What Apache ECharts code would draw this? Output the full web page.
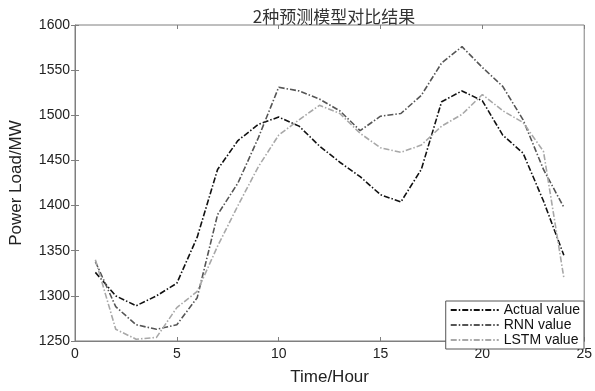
<!DOCTYPE html>
<html>
<head>
<meta charset="utf-8">
<script src="https://cdn.jsdelivr.net/npm/echarts@6/dist/echarts.min.js"></script>
<style>
  html, body { margin: 0; padding: 0; background: #fff; }
  #main { width: 595px; height: 391px; }
</style>
</head>
<body>
<div id="main"></div>
<script>
// 小时
var hours = [1, 2, 3, 4, 5, 6, 7, 8, 9, 10, 11, 12, 13, 14, 15, 16, 17, 18, 19, 20, 21, 22, 23, 24];
// 实际值
var actualValue = [1326, 1300, 1289, 1300, 1314, 1365, 1440, 1472, 1490, 1498, 1488, 1466, 1448, 1432, 1412, 1404, 1440, 1515, 1527, 1516, 1478, 1458, 1405, 1345];
// RNN预测
var rnnValue = [1338, 1288, 1268, 1263, 1268, 1298, 1390, 1425, 1475, 1531, 1527, 1518, 1505, 1483, 1499, 1502, 1522, 1558, 1576, 1553, 1532, 1495, 1440, 1398];
// LSTM预测
var lstmValue = [1340, 1263, 1252, 1254, 1287, 1305, 1355, 1400, 1443, 1478, 1495, 1511, 1502, 1480, 1464, 1459, 1467, 1488, 1501, 1523, 1505, 1492, 1460, 1320];

function pairs(vals) {
  return hours.map(function (h, i) { return [h, vals[i]]; });
}

var chart = echarts.init(document.getElementById('main'));
var font = 'Liberation Sans, Arial, sans-serif';
var axisColor = '#7f7f7f';

function mkLine(name, vals, color) {
  return {
    name: name,
    type: 'line',
    data: pairs(vals),
    symbol: 'none',
    smooth: false,
    itemStyle: { color: color },
    lineStyle: { color: color, width: 1.6, type: [6, 2, 1.5, 2] }
  };
}

var option = {
  backgroundColor: '#fff',
  animation: false,
  title: {
    text: '2种预测模型对比结果',
    left: 329,
    textAlign: 'center',
    top: 3,
    textStyle: { fontFamily: 'Noto Sans CJK SC', fontWeight: 'normal', fontSize: 17, color: '#333' }
  },
  grid: { left: 73, right: 10, top: 25, bottom: 40, show: true, borderColor: axisColor, borderWidth: 1 },
  legend: {
    orient: 'vertical',
    right: 11,
    bottom: 42,
    backgroundColor: '#fff',
    borderColor: '#555',
    borderWidth: 1,
    borderRadius: 0,
    padding: [2, 4, 2, 4],
    itemGap: 1,
    itemWidth: 48,
    itemHeight: 14,
    itemStyle: { opacity: 0 },
    textStyle: { fontFamily: font, fontSize: 14, color: '#111' },
    data: ['Actual value', 'RNN value', 'LSTM value']
  },
  xAxis: [{
    type: 'value',
    min: 0, max: 25, interval: 5,
    name: 'Time/Hour',
    nameLocation: 'middle',
    nameGap: 28,
    nameTextStyle: { fontFamily: font, fontSize: 17, color: '#222' },
    axisLine: { lineStyle: { color: axisColor } },
    axisTick: { inside: true, length: 4, lineStyle: { color: axisColor } },
    axisLabel: { fontFamily: font, fontSize: 14, color: '#222', margin: 6 },
    splitLine: { show: false }
  }, {
    type: 'value', position: 'top',
    min: 0, max: 25, interval: 5,
    axisLine: { show: false },
    axisTick: { inside: true, length: 4, lineStyle: { color: axisColor } },
    axisLabel: { show: false },
    splitLine: { show: false }
  }],
  yAxis: [{
    type: 'value',
    min: 1250, max: 1600, interval: 50,
    name: 'Power Load/MW',
    nameLocation: 'middle',
    nameGap: 50,
    nameTextStyle: { fontFamily: font, fontSize: 17, color: '#222' },
    axisLine: { show: true, lineStyle: { color: axisColor } },
    axisTick: { show: true, inside: true, length: 4, lineStyle: { color: axisColor } },
    axisLabel: { fontFamily: font, fontSize: 14, color: '#222', margin: 5, formatter: function (v) { return String(v); } },
    splitLine: { show: false }
  }, {
    type: 'value', position: 'right',
    min: 1250, max: 1600, interval: 50,
    axisLine: { show: false },
    axisTick: { show: true, inside: true, length: 4, lineStyle: { color: axisColor } },
    axisLabel: { show: false },
    splitLine: { show: false }
  }],
  series: [
    mkLine('Actual value', actualValue, '#111'),
    mkLine('RNN value', rnnValue, '#555'),
    mkLine('LSTM value', lstmValue, '#a8a8a8')
  ]
};
chart.setOption(option);
</script>
</body>
</html>
